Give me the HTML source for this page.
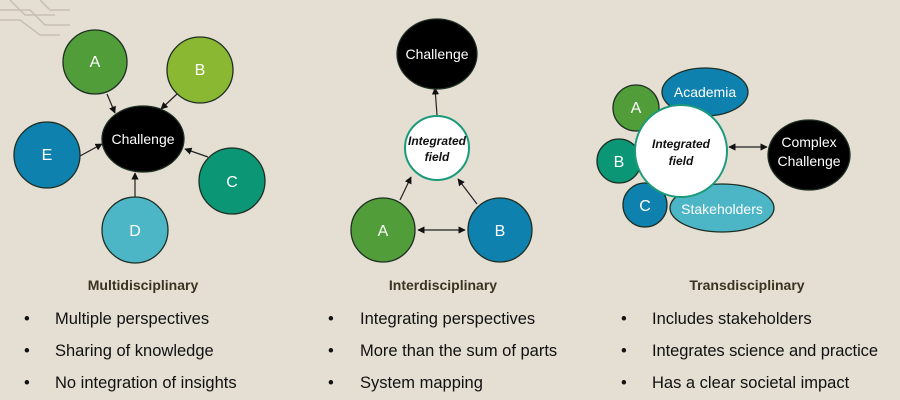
<!DOCTYPE html>
<html><head><meta charset="utf-8"><style>
body{margin:0;width:900px;height:400px;background:#e4ded3;overflow:hidden}
svg{display:block}
text{font-family:"Liberation Sans",sans-serif}
</style></head><body>
<svg width="900" height="400" viewBox="0 0 900 400">
<defs><marker id="ah" viewBox="0 0 10 10" refX="9" refY="5" markerWidth="6" markerHeight="6" orient="auto-start-reverse"><path d="M0,0L10,5L0,10z" fill="#111"/></marker></defs>
<g stroke="#bfb8ab" fill="none" stroke-width="1.5" opacity="0.8">
<path d="M0,10 H30 L45,25 H70"/><path d="M0,20 H20 L40,35 H60"/><path d="M10,0 L25,15 H55"/><path d="M40,0 L50,10 H70"/></g>
<g stroke="#222" stroke-width="1.2" marker-end="url(#ah)">
<line x1="107" y1="94" x2="115" y2="113"/><line x1="177" y1="94" x2="161" y2="109"/>
<line x1="80" y1="156" x2="102" y2="144"/><line x1="208" y1="157" x2="185" y2="149"/>
<line x1="135" y1="197" x2="135" y2="173"/>
<line x1="400" y1="200" x2="411" y2="177"/><line x1="477" y1="204" x2="458" y2="179"/>
<line x1="437" y1="115" x2="435" y2="88"/>
</g>
<line x1="418" y1="230" x2="465" y2="230" stroke="#222" stroke-width="1.2" marker-start="url(#ah)" marker-end="url(#ah)"/>
<line x1="729" y1="147" x2="767" y2="147" stroke="#222" stroke-width="1.2" marker-start="url(#ah)" marker-end="url(#ah)"/>
<g stroke="#1e2e22" stroke-width="1.3" font-size="16" text-anchor="middle">
<circle cx="95" cy="62" r="32" fill="#519d3a"/><circle cx="200" cy="70" r="33" fill="#8ab833"/>
<ellipse cx="143" cy="139" rx="41" ry="33" fill="#000"/>
<circle cx="47" cy="155" r="33" fill="#0e81ae"/><circle cx="232" cy="181" r="33" fill="#0b9775"/>
<circle cx="135" cy="230" r="33" fill="#4cb6c7"/>
<ellipse cx="437" cy="54" rx="40" ry="35" fill="#000"/>
<circle cx="437" cy="148" r="32" fill="#fff" stroke="#1b9a7a" stroke-width="2"/>
<circle cx="383" cy="230" r="32" fill="#519d3a"/><circle cx="500" cy="230" r="32" fill="#0e81ae"/>
<circle cx="636" cy="108" r="23" fill="#519d3a"/>
<ellipse cx="705" cy="92" rx="43" ry="24" fill="#0e81ae"/>
<circle cx="619" cy="161" r="22" fill="#0b9775"/>
<circle cx="645" cy="205" r="22" fill="#0e81ae"/>
<ellipse cx="722" cy="208" rx="52" ry="24" fill="#4cb6c7"/>
<circle cx="681" cy="151" r="46" fill="#fff" stroke="#1b9a7a" stroke-width="2"/>
<ellipse cx="809" cy="155" rx="41" ry="35" fill="#000"/>
</g>
<g fill="#fff" font-size="16" text-anchor="middle">
<text x="95" y="67">A</text><text x="200" y="75">B</text><text x="143" y="144" font-size="14">Challenge</text>
<text x="47" y="160">E</text><text x="232" y="187">C</text><text x="135" y="236">D</text>
<text x="437" y="59" font-size="14">Challenge</text>
<text x="383" y="236">A</text><text x="500" y="236">B</text>
<text x="636" y="113">A</text><text x="705" y="97" font-size="14">Academia</text>
<text x="619" y="167">B</text><text x="645" y="211">C</text>
<text x="722" y="214" font-size="14">Stakeholders</text>
<text x="809" y="147" font-size="14">Complex</text><text x="809" y="166" font-size="14">Challenge</text>
</g>
<g fill="#111" font-size="12" font-style="italic" font-weight="bold" text-anchor="middle">
<text x="437" y="145">Integrated</text><text x="437" y="161">field</text>
<text x="681" y="148">Integrated</text><text x="681" y="165">field</text>
</g>
<g fill="#3b3320" font-size="14" font-weight="bold" text-anchor="middle">
<text x="143" y="290">Multidisciplinary</text><text x="443" y="290">Interdisciplinary</text><text x="747" y="290">Transdisciplinary</text>
</g>
<g fill="#111" font-size="16.5">
<text x="24" y="324">•</text><text x="55" y="324">Multiple perspectives</text>
<text x="24" y="356">•</text><text x="55" y="356">Sharing of knowledge</text>
<text x="24" y="388">•</text><text x="55" y="388">No integration of insights</text>
<text x="328" y="324">•</text><text x="360" y="324">Integrating perspectives</text>
<text x="328" y="356">•</text><text x="360" y="356">More than the sum of parts</text>
<text x="328" y="388">•</text><text x="360" y="388">System mapping</text>
<text x="621" y="324">•</text><text x="652" y="324">Includes stakeholders</text>
<text x="621" y="356">•</text><text x="652" y="356" textLength="226">Integrates science and practice</text>
<text x="621" y="388">•</text><text x="652" y="388">Has a clear societal impact</text>
</g>
</svg>
</body></html>
